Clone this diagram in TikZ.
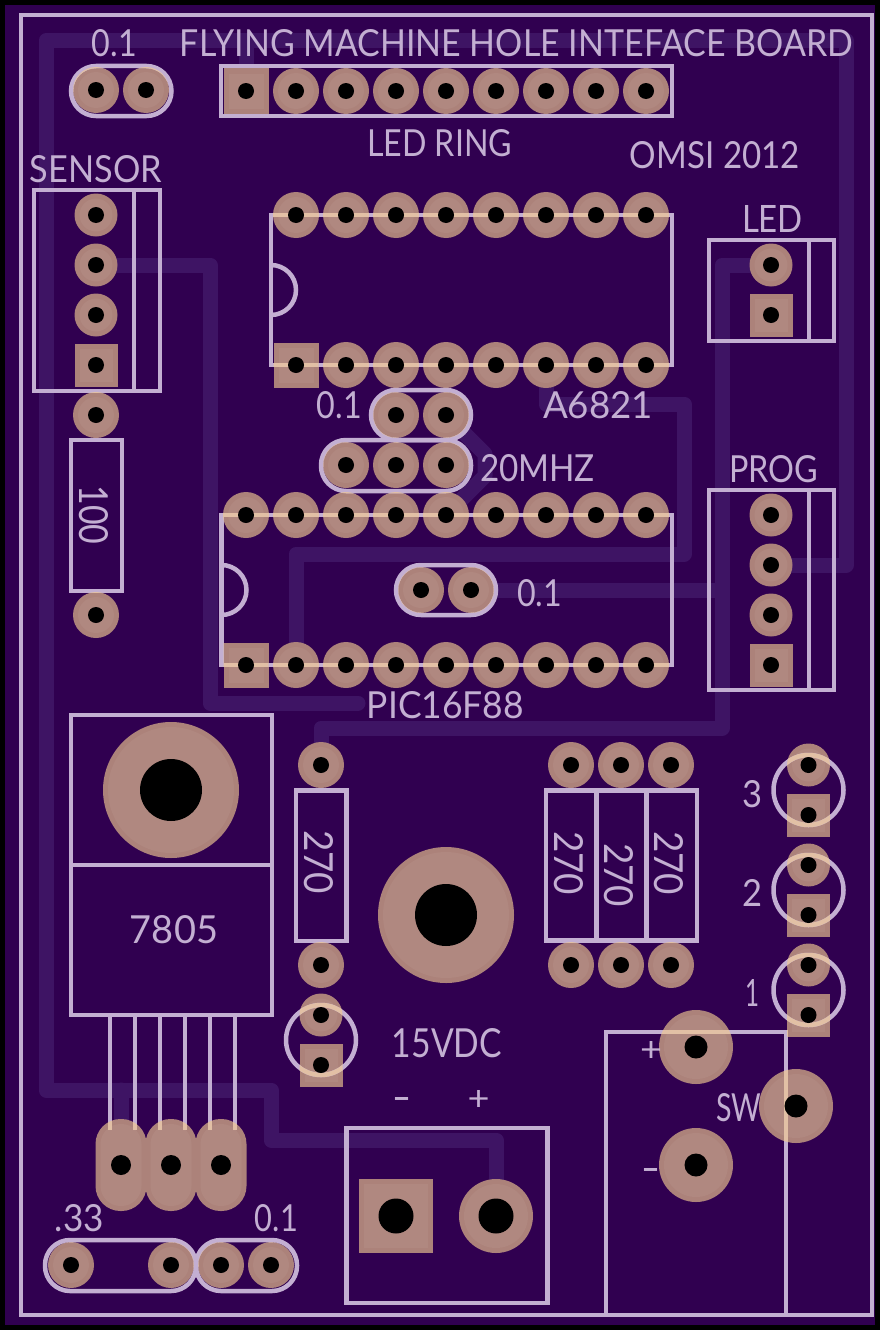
\documentclass[tikz,border=0pt]{standalone}
\usepackage{fontspec}
\usepackage{graphicx}
\setmainfont{Lato}
\definecolor{board}{RGB}{48,0,80}
\definecolor{tracec}{RGB}{62,20,100}
\definecolor{silkbase}{RGB}{195,175,210}
\definecolor{silkpeach}{RGB}{226,192,165}
\colorlet{silkcur}{silkbase}
\definecolor{padc}{RGB}{172,130,122}
\definecolor{padi}{RGB}{176,136,128}
\tikzset{
 tracepath/.style={draw=tracec,line width=15pt,line join=round,line cap=round},
 silk/.style={draw=silkcur,line width=4.5pt,line join=miter},
 stadiumline/.style={silk,rounded corners=25pt},
 lbl/.style={inner sep=0pt,outer sep=0pt,text=silkbase,anchor=center},
}
\def\roundlist{296/91/23/8,346/91/23/8,396/91/23/8,446/91/23/8,496/91/23/8,546/91/23/8,596/91/23/8,646/91/23/8,
96/90/23/8,146/90/23/8,
96/215/21.5/8,96/265/21.5/8,96/315/21.5/8,
296/215/23/8,346/215/23/8,396/215/23/8,446/215/23/8,496/215/23/8,546/215/23/8,596/215/23/8,646/215/23/8,
346/365/23/8,396/365/23/8,446/365/23/8,496/365/23/8,546/365/23/8,596/365/23/8,646/365/23/8,
771/265/21.5/8,
396/415/23/8,446/415/23/8,346/465/23/8,396/465/23/8,446/465/23/8,
246/515/23/8,296/515/23/8,346/515/23/8,396/515/23/8,446/515/23/8,496/515/23/8,546/515/23/8,596/515/23/8,646/515/23/8,
296/665/23/8,346/665/23/8,396/665/23/8,446/665/23/8,496/665/23/8,546/665/23/8,596/665/23/8,646/665/23/8,
421/590/23/8,471/590/23/8,
771/515/21.5/8,771/565/21.5/8,771/615/21.5/8,
96/415/23/8,96/615/23/8,
171/790/68/31,446/915/68/31,
321/765/23/8,321/965/23/8,321/1015/21.5/8,
571/765/23/8,621/765/23/8,671/765/23/8,571/965/23/8,621/965/23/8,671/965/23/8,
808.5/765/21.5/8,808.5/865/21.5/8,808.5/965/21.5/8,
696/1047/37/11.5,696/1165/37/11.5,796/1106/37/11.5,
496/1216/37/17.5,
71/1265/23/8,171/1265/23/8,221/1265/23/8,271/1265/23/8}
\def\sqlist{246/91/22.5/8,96/365/21.5/8,296/365/22.5/8,771/315/21.5/8,246/665/22.5/8,771/665/21.5/8,321/1065/21.5/8,808.5/815/21.5/8,808.5/915/21.5/8,808.5/1015/21.5/8,396/1216/37/17.5}
\def\oblist{121,171,221}
\newcommand{\txt}[6]{\node[lbl] (#1) at (#2,#3) {\resizebox{#4pt}{#5pt}{#6}};}
\newcommand{\rtxt}[6]{\node[lbl,rotate=-90] (#1) at (#2,#3) {\resizebox{#4pt}{#5pt}{#6}};}
\newcommand{\silkwork}{%
\draw[silk] (21,15) rectangle (872,1315);
\draw[stadiumline] (71,66) rectangle (171.5,116);
\draw[silk] (221,66) rectangle (672,116);
\draw[silk] (34,190) rectangle (160,391) (134,190) -- (134,391);
\draw[silk] (271,215) rectangle (672,365);
\draw[silk] (271,265) arc[start angle=-90,end angle=90,radius=25];
\draw[silk] (709,240) rectangle (834,341) (809,240) -- (809,341);
\draw[silk] (709,490) rectangle (834,690) (809,490) -- (809,690);
\draw[stadiumline] (371,390) rectangle (471,440);
\draw[stadiumline] (321,440) rectangle (471,491);
\draw[silk] (221.5,515) rectangle (672,665);
\draw[silk] (221.5,565) arc[start angle=-90,end angle=90,radius=25];
\draw[stadiumline] (396,565) rectangle (496,615);
\draw[silk] (71,440) rectangle (122,591);
\draw[silk] (71,715) rectangle (272,1015) (71,865) -- (272,865);
\foreach \x in {110,135,160,185,210,235} {\draw[silk] (\x,1015) -- (\x,1130);}
\draw[silk] (296,790.5) rectangle (346.5,941);
\draw[silk] (546,790.5) rectangle (697,940.5) (596.5,790.5) -- (596.5,940.5) (646.5,790.5) -- (646.5,940.5);
\draw[silk] (321,1040) circle[radius=35];
\foreach \y in {790,890,990} {\draw[silk] (808.5,\y) circle[radius=35];}
\draw[silk] (346.5,1128) rectangle (547.5,1303);
\draw[silk] (606,1032) rectangle (786,1315);
\draw[stadiumline] (45,1240) rectangle (196,1291);
\draw[stadiumline] (196,1240) rectangle (297,1291);
}
\begin{document}
\begin{tikzpicture}[x=1pt,y=-1pt]
\useasboundingbox (0,0) rectangle (880,1330);
\fill[black] (0,0) rectangle (880,1330);
\fill[board] (5,5) rectangle (875,1325);
% traces
\draw[tracepath] (246,91) -- (246,40.5);
\draw[tracepath] (771,565) -- (846,565) -- (846,40.5) -- (46,40.5) -- (46,1090) -- (271,1090) -- (271,1140) -- (496,1140) -- (496,1216);
\draw[tracepath] (121,1090) -- (121,1165);
\draw[tracepath] (96,265) -- (210,265) -- (210,703) -- (358,703);
\draw[tracepath] (546,365) -- (546,404) -- (684,404) -- (684,554) -- (296,554) -- (296,665);
\draw[tracepath] (771,265) -- (722,265) -- (722,728) -- (321,728) -- (321,765);
\draw[tracepath] (471,590) -- (722,590);
\draw[tracepath] (446,415) -- (485,454) -- (485,476) -- (446,515);
% copper
\foreach \x/\y/\r/\h in \roundlist {
 \fill[padc] (\x,\y) circle[radius=\r];
 \fill[padi] (\x,\y) circle[radius=\r-5];}
\foreach \x/\y/\r/\h in \sqlist {
 \fill[padc] (\x-\r,\y-\r) rectangle (\x+\r,\y+\r);
 \fill[padi] (\x-\r+5,\y-\r+5) rectangle (\x+\r-5,\y+\r-5);}
\foreach \x in \oblist {
 \fill[padc,rounded corners=25pt] (\x-25.5,1119) rectangle (\x+25.5,1211);
 \fill[padi,rounded corners=20pt] (\x-20.5,1124) rectangle (\x+20.5,1206);}
% silk
\silkwork
\begin{scope}
\clip \foreach \x/\y/\r/\h in \roundlist {(\x,\y) circle[radius=\r]}
      \foreach \x/\y/\r/\h in \sqlist {(\x-\r,\y-\r) rectangle (\x+\r,\y+\r)}
      \foreach \x in \oblist {[rounded corners=25pt] (\x-25.5,1119) rectangle (\x+25.5,1211)};
\colorlet{silkcur}{silkpeach}
\silkwork
\end{scope}
% drill holes
\foreach \x/\y/\r/\h in \roundlist {\fill[black] (\x,\y) circle[radius=\h];}
\foreach \x/\y/\r/\h in \sqlist {\fill[black] (\x,\y) circle[radius=\h];}
\foreach \x in \oblist {\fill[black] (\x,1165) circle[radius=10];}
% labels
\txt{t01a}{114.5}{43.5}{45}{27}{0.1}
\txt{title}{516.5}{43.5}{673}{27}{FLYING MACHINE HOLE INTEFACE BOARD}
\txt{ring}{439.5}{143.5}{145}{27}{LED RING}
\txt{omsi}{715}{155.5}{170}{27}{OMSI 2012}
\txt{sensor}{96}{169}{132}{27}{SENSOR}
\txt{ledl}{772.5}{218.5}{61}{27}{LED}
\txt{t01b}{339.5}{405.5}{45}{27}{0.1}
\txt{a6821}{598}{405.5}{110}{27}{A6821}
\txt{mhz}{537.5}{468.5}{115}{27}{20MHZ}
\txt{prog}{773.5}{469}{89}{27}{PROG}
\txt{t01c}{539.5}{593.5}{45}{27}{0.1}
\txt{pic}{445.5}{705.5}{157}{27}{PIC16F88}
\txt{reg}{174}{930}{88}{28}{7805}
\rtxt{r100}{94}{515}{59}{29}{100}
\rtxt{r270a}{318.5}{862}{64}{29}{270}
\rtxt{r270b}{569}{863}{64}{29}{270}
\rtxt{r270c}{619}{875}{64}{29}{270}
\rtxt{r270d}{669}{863}{64}{29}{270}
\txt{l3}{752}{794}{20}{27}{3}
\txt{l2}{752}{893}{20}{27}{2}
\txt{l1}{752}{993}{14}{27}{1}
\txt{sw}{739}{1108}{45}{28}{SW}
\txt{plusa}{651}{1051}{22}{20}{+}
\txt{minusa}{651}{1176}{19}{15}{–}
\txt{vdc}{447}{1043.5}{110}{29}{15VDC}
\txt{minusb}{401.5}{1105}{19}{15}{–}
\txt{plusb}{478.5}{1100}{22}{20}{+}
\txt{t33}{79.5}{1218.5}{49}{27}{.33}
\txt{t01d}{276.5}{1218.5}{43}{27}{0.1}
\end{tikzpicture}
\end{document}
